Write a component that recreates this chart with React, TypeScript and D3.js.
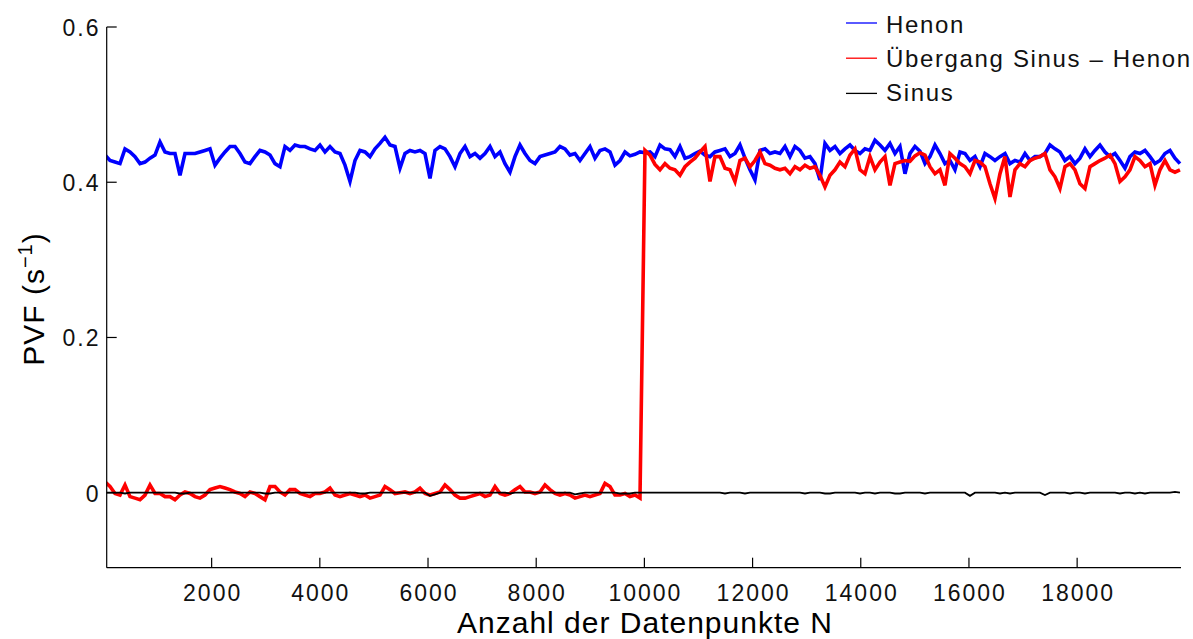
import React from "react";
import * as d3 from "d3";

// x position (Anzahl der Datenpunkte) of the first sample and spacing of samples
const X_START = 28.5;
const X_STEP = 92.43;

const henon = [
  0.435, 0.428, 0.426, 0.424, 0.443, 0.439, 0.433, 0.424, 0.426, 0.431,
  0.435, 0.452, 0.439, 0.437, 0.437, 0.409, 0.437, 0.437, 0.437, 0.439,
  0.441, 0.443, 0.422, 0.431, 0.439, 0.446, 0.446, 0.437, 0.426, 0.424,
  0.433, 0.441, 0.439, 0.435, 0.424, 0.42, 0.446, 0.441, 0.448, 0.446,
  0.446, 0.443, 0.441, 0.448, 0.439, 0.446, 0.439, 0.437, 0.422, 0.401,
  0.428, 0.441, 0.439, 0.433, 0.443, 0.45, 0.458, 0.448, 0.446, 0.418,
  0.437, 0.441, 0.439, 0.441, 0.437, 0.405, 0.441, 0.446, 0.443, 0.433,
  0.42, 0.437, 0.446, 0.433, 0.437, 0.431, 0.437, 0.446, 0.433, 0.439,
  0.424, 0.413, 0.433, 0.448, 0.437, 0.428, 0.424, 0.433, 0.435, 0.437,
  0.439, 0.446, 0.443, 0.435, 0.437, 0.428, 0.437, 0.446, 0.431, 0.441,
  0.443, 0.439, 0.422, 0.428, 0.439, 0.434, 0.436, 0.439, 0.438, 0.439,
  0.433, 0.448, 0.443, 0.442, 0.433, 0.446, 0.431, 0.433, 0.437, 0.44,
  0.435, 0.433, 0.439, 0.441, 0.443, 0.433, 0.437, 0.448, 0.431, 0.416,
  0.403, 0.441, 0.443, 0.437, 0.439, 0.437, 0.446, 0.433, 0.446, 0.441,
  0.431, 0.433, 0.424, 0.403, 0.45, 0.441, 0.446, 0.437, 0.443, 0.448,
  0.441, 0.437, 0.443, 0.441, 0.454, 0.448, 0.441, 0.45, 0.437, 0.446,
  0.411, 0.437, 0.446, 0.44, 0.424, 0.433, 0.448, 0.437, 0.424, 0.428,
  0.416, 0.439, 0.437, 0.428, 0.433, 0.42, 0.437, 0.433, 0.428, 0.433,
  0.437, 0.424, 0.428, 0.426, 0.437, 0.428, 0.433, 0.433, 0.437, 0.448,
  0.443, 0.439, 0.428, 0.433, 0.424, 0.431, 0.443, 0.433, 0.441, 0.448,
  0.439, 0.433, 0.437, 0.428, 0.418, 0.433, 0.439, 0.437, 0.441, 0.433,
  0.424, 0.428, 0.437, 0.441, 0.431, 0.424,
];

const uebergang = [
  0.014, 0.008, -0.001, -0.003, 0.01, -0.005, -0.007, -0.009, -0.003, 0.01,
  -0.001, -0.001, -0.005, -0.005, -0.009, -0.003, 0.001, -0.001, -0.005, -0.007,
  -0.003, 0.004, 0.006, 0.008, 0.006, 0.004, 0.001, -0.001, -0.005, 0.001,
  -0.001, -0.005, -0.009, 0.008, 0.008, 0.001, -0.003, 0.004, 0.004, -0.001,
  -0.003, -0.005, -0.001, -0.001, 0.001, 0.006, -0.003, -0.005, -0.003, -0.001,
  -0.003, -0.005, -0.003, -0.007, -0.005, -0.003, 0.008, 0.004, -0.001, 0.0,
  0.001, -0.001, 0.001, 0.006, -0.001, -0.003, -0.001, 0.001, 0.01, 0.004,
  -0.003, -0.007, -0.007, -0.005, -0.003, -0.001, -0.005, -0.003, 0.008, -0.001,
  -0.003, -0.001, 0.004, 0.008, 0.001, 0.001, -0.001, 0.001, 0.01, 0.004,
  -0.001, -0.003, -0.001, -0.003, -0.007, -0.005, -0.003, -0.005, -0.003, -0.001,
  0.012, 0.008, -0.003, -0.003, -0.001, -0.005, -0.003, -0.007,
  0.441, 0.435, 0.423, 0.416, 0.424, 0.418, 0.416, 0.409, 0.42, 0.426,
  0.431, 0.439, 0.446, 0.401, 0.433, 0.433, 0.418, 0.416, 0.401, 0.428,
  0.431, 0.42, 0.428, 0.439, 0.424, 0.422, 0.418, 0.416, 0.418, 0.411,
  0.42, 0.416, 0.422, 0.418, 0.42, 0.409, 0.394, 0.409, 0.416, 0.426,
  0.42, 0.435, 0.443, 0.416, 0.411, 0.433, 0.416, 0.426, 0.433, 0.396,
  0.424, 0.426, 0.428, 0.427, 0.434, 0.438, 0.435, 0.42, 0.411, 0.416,
  0.396, 0.437, 0.431, 0.424, 0.42, 0.411, 0.428, 0.426, 0.42, 0.398,
  0.379, 0.411, 0.433, 0.381, 0.416, 0.424, 0.42, 0.428, 0.431, 0.433,
  0.437, 0.416, 0.407, 0.392, 0.42, 0.424, 0.416, 0.398, 0.392, 0.42,
  0.424, 0.428, 0.431, 0.435, 0.424, 0.401, 0.407, 0.416, 0.433, 0.428,
  0.42, 0.424, 0.396, 0.416, 0.428, 0.416, 0.413, 0.416,
];

const sinus = [
  0, 0, 0, 0, -0.001, 0, 0, 0, 0, 0,
  0, 0, 0, 0, 0, -0.001, -0.001, 0, 0, 0,
  0, 0, 0, 0, 0, 0, 0, 0, 0, 0,
  0, 0, -0.001, -0.001, 0, 0, 0, 0, 0, 0,
  0, 0, 0, 0, 0, 0, 0, 0, 0, 0,
  0, -0.001, -0.001, 0, 0, 0, 0, 0, 0, 0,
  0, 0, 0, 0, 0, -0.004, -0.002, 0, 0, 0,
  0, 0, 0, 0, 0, 0, 0, 0, 0, 0,
  0, -0.001, 0, 0, 0, 0, 0, 0, 0, 0,
  0, 0, 0, 0, -0.002, -0.001, 0, 0, 0, 0,
  0, 0, 0, -0.001, -0.001, -0.001, 0, 0, 0, 0,
  0, 0, 0, 0, 0, 0, 0, 0, 0, 0,
  0, 0, 0, 0, -0.001, 0, 0, 0, -0.001, 0,
  0, 0, 0, 0, 0, 0, 0, 0, 0, 0,
  -0.001, 0, 0, 0, -0.001, -0.001, 0, 0, 0, 0,
  0, -0.001, 0, 0, -0.001, 0, 0, 0, -0.001, -0.001,
  0, 0, 0, 0, -0.001, 0, 0, 0, 0, 0,
  0, 0, 0, -0.004, 0, 0, 0, 0, 0, -0.001,
  0, -0.001, 0, 0, 0, 0, 0, 0, -0.003, 0,
  0, 0, 0, -0.001, 0, 0, -0.001, 0, 0, 0,
  0, 0, 0, -0.001, 0, 0, -0.001, 0, -0.001, 0,
  0, 0, 0, 0, 0.001, 0,
];

const xTicks = [2000, 4000, 6000, 8000, 10000, 12000, 14000, 16000, 18000];
const yTicks = [0, 0.2, 0.4, 0.6];
const yTickLabels = ["0", "0.2", "0.4", "0.6"];
const seriesNames = ["Henon", "Übergang Sinus – Henon", "Sinus"];
const seriesColors = ["#0000ff", "#ff0000", "#000000"];
const X_DOMAIN = [60, 19920];
const Y_DOMAIN = [-0.0966, 0.6];

const W = 1193;
const H = 639;
const PL = 106.7, PR = 1181, PT = 27, PB = 567.7;
const FONT = "'Liberation Sans', Arial, Helvetica, sans-serif";

export default function App() {
  const x = d3.scaleLinear().domain(X_DOMAIN).range([PL, PR]);
  const y = d3.scaleLinear().domain(Y_DOMAIN).range([PB, PT]);
  const line = d3
    .line<number>()
    .x((_, i) => x(X_START + i * X_STEP))
    .y((d) => y(d));

  const series = [henon, uebergang, sinus];
  const widths = [3.6, 3.6, 1.8];

  return (
    <svg
      width={W}
      height={H}
      style={{ position: "absolute", left: 0, top: 0, background: "#fff" }}
      fontFamily={FONT}
    >
      <defs>
        <clipPath id="plotclip">
          <rect x={PL} y={PT - 5} width={PR - PL + 1} height={PB - PT + 5} />
        </clipPath>
      </defs>
      <rect x={0} y={0} width={W} height={H} fill="#fff" />
      <g clipPath="url(#plotclip)">
        {series.map((s, i) => (
          <path
            key={i}
            d={line(s) || ""}
            fill="none"
            stroke={seriesColors[i]}
            strokeWidth={widths[i]}
            strokeLinejoin="miter"
          />
        ))}
      </g>
      {/* axes */}
      <line x1={PL} x2={PL} y1={PT} y2={PB} stroke="#000" strokeWidth={1.2} />
      <line x1={PL} x2={PR} y1={PB} y2={PB} stroke="#000" strokeWidth={1.2} />
      {yTicks.map((t, i) => (
        <g key={"y" + i}>
          <line x1={PL} x2={PL + 10} y1={y(t)} y2={y(t)} stroke="#000" strokeWidth={1.2} />
          <text
            x={100.5}
            y={y(t) + 9}
            textAnchor="end"
            fontSize={23}
            letterSpacing={2}
            fill="#111"
          >
            {yTickLabels[i]}
          </text>
        </g>
      ))}
      {xTicks.map((t, i) => (
        <g key={"x" + i}>
          <line x1={x(t)} x2={x(t)} y1={PB} y2={PB - 10} stroke="#000" strokeWidth={1.2} />
          <text
            x={x(t) + 1}
            y={600.5}
            textAnchor="middle"
            fontSize={23}
            letterSpacing={2}
            fill="#111"
          >
            {d3.format("d")(t)}
          </text>
        </g>
      ))}
      {/* axis labels */}
      <text x={645} y={633} textAnchor="middle" fontSize={30} letterSpacing={1} fill="#000">
        Anzahl der Datenpunkte N
      </text>
      <text
        transform="translate(44,299) rotate(-90)"
        textAnchor="middle"
        fontSize={30}
        letterSpacing={1}
        fill="#000"
      >
        PVF (s
        <tspan fontSize={20} dy={-12}>
          −1
        </tspan>
        <tspan dy={12}>)</tspan>
      </text>
      {/* legend */}
      {seriesNames.map((name, i) => (
        <g key={"l" + i}>
          <line
            x1={846}
            x2={877}
            y1={23 + i * 35.2}
            y2={23 + i * 35.2}
            stroke={seriesColors[i]}
            strokeWidth={1.3}
          />
          <text x={886} y={33.3 + i * 33.9} fontSize={24} letterSpacing={1.65} fill="#111">
            {name}
          </text>
        </g>
      ))}
    </svg>
  );
}
